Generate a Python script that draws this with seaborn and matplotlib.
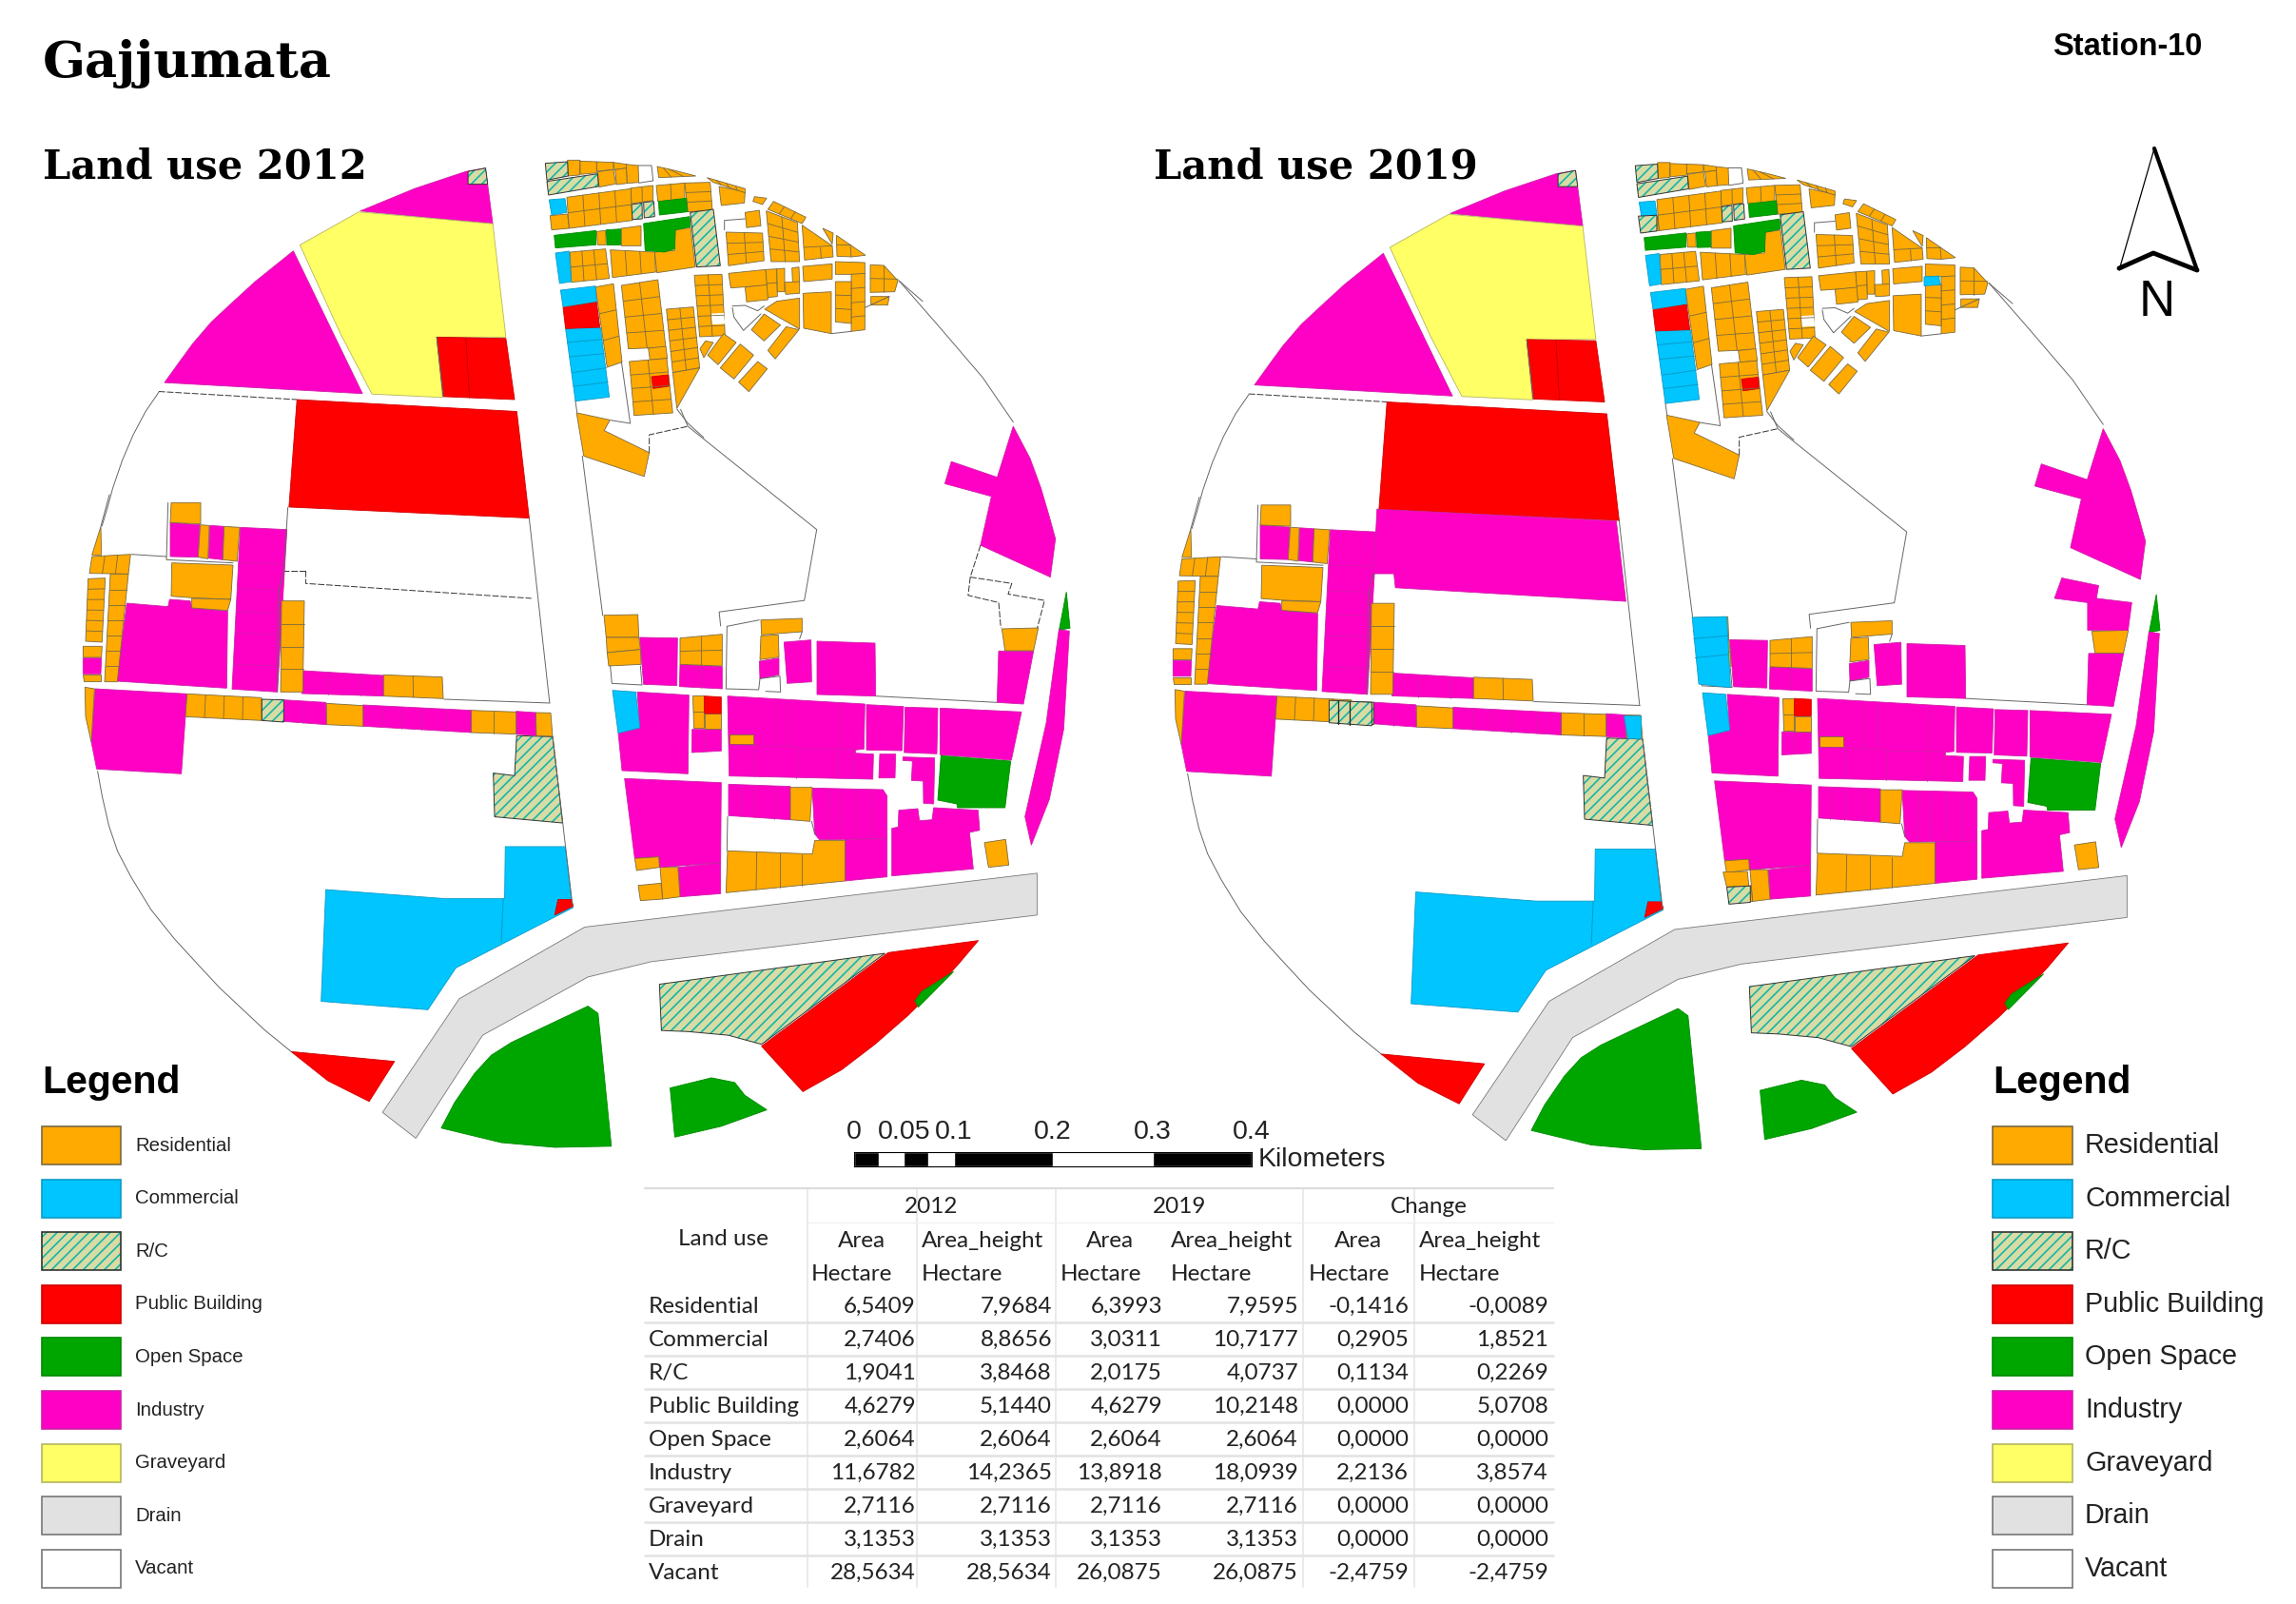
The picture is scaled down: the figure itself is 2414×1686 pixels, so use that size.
import matplotlib

matplotlib.use("Agg")
import matplotlib.pyplot as plt
import numpy as np
import seaborn as sns
from matplotlib.patches import Polygon

WIDTH, HEIGHT = 2414, 1686
DPI = 100
SHEET_UNITS = 1568
OFFSET_2019 = (1146, 2.5)

# map sheets: left, top, width, height in pixels of the page
NORTH_BOX = (0, 120, 1200, 700)
SOUTH_BOX = (50, 650, 1100, 600)
BLOCK_BOX = (570, 160, 400, 300)
EAST_BOX = (630, 650, 500, 320)
WEST_BOX = (80, 520, 520, 300)
NORTH_BOX_2019 = (1200, 120, 1214, 700)
SOUTH_BOX_2019 = (1200, 650, 1214, 600)

LAND_USES = ["Residential", "Commercial", "R/C", "Public Building", "Open Space",
             "Industry", "Graveyard", "Drain", "Vacant"]
FILL = ["#FFAA00", "#00C5FF", "#D8DCA4", "#FF0000", "#00A600", "#FF00C5", "#FFFF66", "#E1E1E1", "#FFFFFF"]
EDGE = ["#7a6a40", "#0a9cc8", "#222222", "#d00000", "#008a00", "#d020a8", "#b5b560", "#777777", "#777777"]

AREA_2012 = ["6,5409", "2,7406", "1,9041", "4,6279", "2,6064", "11,6782", "2,7116", "3,1353", "28,5634"]
HEIGHT_2012 = ["7,9684", "8,8656", "3,8468", "5,1440", "2,6064", "14,2365", "2,7116", "3,1353", "28,5634"]
AREA_2019 = ["6,3993", "3,0311", "2,0175", "4,6279", "2,6064", "13,8918", "2,7116", "3,1353", "26,0875"]
HEIGHT_2019 = ["7,9595", "10,7177", "4,0737", "10,2148", "2,6064", "18,0939", "2,7116", "3,1353", "26,0875"]
AREA_CHANGE = ["-0,1416", "0,2905", "0,1134", "0,0000", "0,0000", "2,2136", "0,0000", "0,0000", "-2,4759"]
HEIGHT_CHANGE = ["-0,0089", "1,8521", "0,2269", "5,0708", "0,0000", "3,8574", "0,0000", "0,0000", "-2,4759"]

SCALE_ENDS = [0.4, 0.3, 0.2, 0.1, 0.075, 0.05, 0.025]
SCALE_COLORS = ["black", "white", "black", "white", "black", "white", "black"]
SCALE_TICKS = [0, 0.05, 0.1, 0.2, 0.3, 0.4]
SCALE_LABELS = ["0", "0.05", "0.1", "0.2", "0.3", "0.4"]

# --- north sheet: the large plots above the street ---
NORTH_INDUSTRY = [
    [(495, 228), (570, 175), (640, 135), (667, 127), (677, 258)],
    [(403, 322), (350, 395), (315, 450), (290, 490), (265, 540), (250, 575), (226, 632), (498, 658)],
    [(1392, 735), (1415, 810), (1430, 880), (1442, 950), (1450, 1000), (1443, 1090), (1347, 1015), (1362, 900), (1298, 870), (1307, 818), (1370, 855)],
]
NORTH_GRAVEYARD = [
    [(412, 308), (493, 230), (677, 258), (695, 525), (600, 525), (608, 667), (511, 659), (468, 518)],
]
NORTH_PUBLIC = [
    [(600, 525), (695, 528), (707, 672), (609, 665)],
    [(408, 672), (710, 700), (727, 951), (397, 925)],
]
NORTH_OPEN = [[(1465, 1125), (1470, 1210), (1455, 1215)]]
NORTH_RC = [[(643, 135), (667, 127), (670, 165), (643, 165)]]
NORTH_RESIDENTIAL = [
    [(792, 703), (838, 720), (830, 745), (892, 797), (885, 853), (802, 805)],
]
NORTH_LINES = [
    [(218, 655), (200, 700), (183, 755), (168, 815), (155, 880), (147, 930), (140, 970)],
    [(1235, 392), (1262, 445), (1290, 500), (1320, 560), (1350, 620), (1372, 675), (1392, 725)],
    [(727, 951), (755, 1385)],
    [(935, 695), (945, 735), (1122, 978), (1105, 1145), (988, 1172), (990, 1205)],
    [(800, 805), (828, 1180)],
    [(600, 525), (609, 665)],
]
NORTH_DASHED = [
    [(218, 653), (408, 672)],
    [(892, 797), (892, 755), (945, 735)],
]
NORTH_DASHED_2012 = [
    [(420, 1075), (420, 1105), (730, 1140)],
    [(388, 1075), (420, 1075)],
    [(1347, 1015), (1333, 1090), (1390, 1105), (1385, 1130), (1435, 1145), (1425, 1210)],
    [(1333, 1090), (1330, 1133), (1372, 1150), (1375, 1210)],
]

# --- south sheet: below the drain and the big south-west plots ---
SOUTH_RC = [
    [(703, 322), (757, 325), (772, 562), (670, 545), (668, 425), (700, 432)],
    [(917, 1005), (1255, 920), (1070, 1170), (1020, 1145), (960, 1135), (920, 1132)],
]
SOUTH_COMMERCIAL = [
    [(417, 745), (597, 770), (685, 770), (686, 627), (776, 627), (787, 795), (612, 960), (570, 1075), (410, 1052)],
]
SOUTH_COMMERCIAL_LINES = [[(683, 770), (680, 890)]]
SOUTH_PUBLIC = [
    [(765, 772), (785, 772), (788, 790), (760, 815)],
    [(365, 1190), (520, 1217), (482, 1327), (420, 1270)],
    [(1260, 918), (1395, 885), (1365, 950), (1340, 1000), (1290, 1090), (1240, 1170), (1190, 1240), (1132, 1300), (1070, 1175)],
]
SOUTH_OPEN = [
    [(1358, 970), (1305, 1068), (1300, 1050), (1310, 1025)],
    [(810, 1065), (825, 1085), (845, 1450), (760, 1453), (680, 1440), (590, 1400), (610, 1330), (640, 1250), (665, 1200), (695, 1165)],
    [(933, 1290), (995, 1262), (1030, 1275), (1045, 1310), (1078, 1350), (1010, 1395), (940, 1425)],
]
SOUTH_DRAIN = [
    [(805, 848), (1483, 700), (1483, 815), (905, 943), (810, 985), (652, 1145), (552, 1428), (502, 1357), (617, 1045)],
]
SOUTH_LINES = [
    [(75, 420), (82, 490), (92, 570), (105, 640), (125, 710), (155, 800), (190, 880), (225, 950), (258, 1015), (290, 1070), (325, 1130), (365, 1190)],
    [(757, 325), (787, 795)],
]

# --- block sheet: the small parcels in the north-east corner ---
# corners, columns, rows
BLOCK_RESIDENTIAL_GRIDS = [
    ([(80, 25), (120, 25), (118, 72), (82, 75)], 1, 1),
    ([(120, 28), (172, 30), (172, 65), (120, 70)], 1, 1),
    ([(172, 30), (225, 32), (225, 55), (172, 60)], 1, 1),
    ([(175, 62), (225, 55), (232, 100), (180, 110)], 1, 1),
    ([(225, 32), (265, 38), (268, 50), (228, 55)], 1, 1),
    ([(265, 38), (303, 42), (305, 95), (268, 98)], 1, 1),
    ([(230, 55), (265, 50), (268, 98), (235, 102)], 1, 1),
    ([(363, 45), (420, 58), (485, 75), (368, 80)], 3, 1),
    ([(78, 142), (280, 115), (285, 215), (85, 240)], 4, 2),
    ([(280, 113), (350, 105), (350, 152), (282, 162)], 2, 1),
    ([(25, 200), (80, 195), (85, 240), (30, 245)], 1, 1),
    ([(360, 105), (450, 97), (450, 150), (365, 155)], 2, 1),
    ([(450, 97), (530, 95), (537, 183), (460, 188)], 1, 3),
    ([(172, 250), (200, 247), (202, 292), (175, 292)], 1, 1),
    ([(250, 240), (312, 232), (312, 295), (250, 295)], 1, 1),
    ([(215, 308), (355, 315), (358, 378), (222, 395)], 3, 1),
    ([(88, 315), (200, 305), (212, 398), (92, 410)], 3, 2),
    ([(168, 425), (225, 415), (252, 662), (205, 678)], 1, 3),
    ([(250, 420), (365, 402), (390, 615), (272, 620)], 2, 4),
    ([(335, 618), (390, 612), (395, 650), (340, 655)], 1, 1),
    ([(275, 660), (393, 650), (412, 822), (290, 830)], 2, 4),
    ([(392, 495), (477, 488), (497, 680), (412, 695)], 2, 6),
    ([(480, 388), (567, 385), (577, 578), (497, 582)], 2, 6),
    ([(515, 595), (540, 600), (510, 648), (498, 620)], 1, 1),
    ([(572, 572), (612, 600), (555, 670), (522, 640)], 1, 1),
    ([(625, 605), (667, 640), (605, 715), (562, 680)], 1, 1),
    ([(680, 660), (710, 683), (652, 755), (620, 725)], 1, 1),
    ([(700, 510), (752, 545), (700, 595), (660, 560)], 1, 1),
    ([(770, 550), (810, 560), (735, 652), (712, 625)], 1, 1),
    ([(588, 382), (705, 370), (710, 420), (595, 428)], 1, 1),
    ([(640, 425), (712, 418), (712, 465), (645, 472)], 1, 1),
    ([(705, 370), (740, 368), (742, 455), (712, 458)], 1, 2),
    ([(740, 368), (765, 366), (765, 440), (742, 440)], 1, 1),
    ([(788, 365), (810, 362), (812, 410), (790, 412)], 1, 1),
    ([(765, 410), (812, 408), (812, 445), (768, 448)], 1, 1),
    ([(822, 360), (915, 352), (915, 400), (825, 408)], 1, 1),
    ([(823, 445), (912, 440), (912, 572), (825, 555)], 1, 1),
    ([(925, 345), (1018, 348), (1018, 385), (925, 385)], 1, 1),
    ([(975, 385), (1018, 382), (1018, 560), (975, 565)], 1, 4),
    ([(925, 408), (975, 408), (975, 540), (925, 535)], 1, 3),
    ([(1037, 455), (1095, 455), (1090, 482), (1037, 482)], 1, 1),
    ([(707, 185), (805, 222), (812, 345), (722, 345)], 2, 4),
    ([(730, 155), (832, 205), (820, 225), (712, 180)], 3, 1),
    ([(640, 190), (685, 183), (690, 232), (645, 238)], 1, 1),
    ([(580, 252), (695, 255), (700, 342), (588, 358)], 2, 3),
    ([(558, 108), (640, 125), (638, 160), (565, 168)], 1, 1),
    ([(520, 80), (640, 115), (640, 128), (540, 95)], 4, 1),
    ([(670, 140), (708, 145), (695, 165), (665, 155)], 1, 1),
]
BLOCK_RESIDENTIAL = [
    [(420, 245), (468, 238), (483, 362), (362, 380), (355, 315), (418, 310)],
    [(412, 695), (497, 680), (425, 808)],
    [(702, 495), (740, 470), (812, 460), (812, 558), (720, 505)],
    [(1035, 355), (1078, 357), (1122, 405), (1112, 440), (1035, 442)],
    [(928, 262), (1020, 325), (975, 330), (930, 328)],
    [(820, 230), (915, 295), (918, 330), (828, 340)],
    [(885, 240), (918, 255), (915, 290)],
]
BLOCK_RESIDENTIAL_LINES = [
    [(1078, 357), (1078, 442)], [(1035, 398), (1122, 400)],
    [(928, 292), (972, 292)], [(972, 292), (975, 330)],
    [(878, 300), (880, 335)], [(825, 300), (915, 295)],
]
BLOCK_OPEN = [
    [(367, 155), (455, 145), (458, 188), (370, 198)],
    [(38, 262), (170, 247), (170, 292), (42, 302)],
    [(202, 245), (248, 242), (248, 292), (205, 293)],
    [(320, 225), (465, 203), (468, 235), (420, 245), (418, 305), (385, 315), (325, 310)],
]
BLOCK_COMMERCIAL = [
    [(42, 318), (85, 312), (92, 408), (55, 414)],
    [(22, 150), (72, 146), (78, 190), (30, 198)],
    [(58, 435), (168, 422), (172, 472), (66, 488)],
    [(74, 557), (184, 553), (212, 772), (105, 785)],
]
BLOCK_COMMERCIAL_LINES = [
    [(80, 600), (190, 590)], [(88, 645), (197, 635)], [(95, 695), (203, 680)], [(100, 738), (208, 725)],
]
BLOCK_PUBLIC = [
    [(66, 490), (172, 473), (182, 552), (74, 556)],
    [(345, 708), (398, 702), (400, 738), (350, 745)],
]
BLOCK_RC = [
    [(10, 35), (80, 30), (82, 75), (15, 88)],
    [(15, 92), (175, 68), (178, 108), (20, 135)],
    [(282, 165), (315, 160), (316, 210), (285, 212)],
    [(320, 158), (352, 155), (355, 203), (322, 207)],
    [(467, 190), (540, 180), (562, 358), (487, 362)],
]
BLOCK_VACANT = [[(535, 510), (572, 508), (575, 540), (537, 542)]]
BLOCK_LINES = [
    [(303, 42), (345, 42), (350, 90), (305, 97)],
    [(575, 245), (575, 215), (640, 210)],
    [(600, 485), (640, 483), (680, 500), (700, 485)],
    [(600, 490), (605, 520), (635, 562), (690, 510)],
    [(912, 572), (975, 565)],
    [(1018, 490), (1095, 455)],
    [(1125, 405), (1200, 470)],
    [(425, 810), (460, 855), (510, 900)],
    [(105, 785), (110, 820)],
    [(250, 660), (278, 855), (215, 845)],
]

# --- east sheet: street blocks between the road and the sliver ---
EAST_INDUSTRY = [
    [(128, 60), (247, 62), (245, 212), (140, 208)],
    [(255, 145), (388, 152), (388, 222), (253, 215)],
    [(505, 135), (567, 125), (567, 178), (507, 190)],
    [(583, 75), (668, 68), (670, 200), (593, 205)],
    [(687, 72), (870, 78), (872, 245), (687, 240)],
    [(1260, 103), (1370, 103), (1338, 270), (1255, 265)],
    [(120, 232), (283, 242), (280, 490), (72, 480), (60, 362), (128, 345)],
    [(293, 350), (385, 350), (385, 418), (292, 423)],
    [(405, 245), (838, 270), (835, 412), (808, 415), (808, 425), (865, 428), (863, 507), (410, 497)],
    [(843, 272), (960, 278), (955, 417), (843, 415)],
    [(965, 280), (1068, 283), (1065, 427), (962, 423)],
    [(1075, 283), (1332, 295), (1300, 447), (1075, 430)],
    [(885, 428), (935, 428), (933, 503), (882, 503)],
    [(958, 437), (1058, 440), (1055, 585), (1023, 583), (1022, 513), (985, 511), (988, 450), (958, 448)],
    [(80, 505), (385, 518), (383, 770), (190, 785), (185, 752), (112, 757)],
    [(250, 785), (383, 770), (383, 868), (255, 878)],
    [(408, 523), (603, 530), (603, 635), (408, 622)],
    [(672, 535), (895, 540), (908, 560), (908, 695), (695, 698), (680, 680)],
    [(775, 697), (908, 695), (908, 815), (775, 828)],
    [(945, 605), (1005, 600), (1010, 638), (1050, 635), (1055, 597), (1195, 605), (1200, 668), (1168, 675), (1180, 790), (923, 812), (923, 662), (943, 658)],
    [(1450, 35), (1483, 40), (1465, 350), (1420, 570), (1363, 715), (1343, 625), (1410, 330)],
]
EAST_INDUSTRY_LINES = [
    [(320, 148), (320, 218)], [(332, 352), (332, 418)],
    [(553, 258), (553, 400)], [(595, 260), (595, 402)], [(760, 270), (755, 412)],
    [(488, 400), (488, 497)], [(620, 410), (620, 503)], [(750, 415), (750, 505)], [(805, 415), (803, 505)],
    [(410, 398), (620, 405)], [(620, 410), (808, 412)],
    [(445, 525), (445, 625)], [(490, 527), (490, 628)], [(553, 528), (553, 632)],
    [(725, 537), (722, 697)], [(765, 538), (762, 697)], [(815, 539), (808, 696)], [(865, 540), (862, 695)],
    [(190, 785), (383, 770)],
]
EAST_RESIDENTIAL_GRIDS = [
    ([(15, -10), (122, -12), (125, 60), (22, 60)], 1, 1),
    ([(22, 60), (125, 60), (130, 98), (25, 108)], 1, 1),
    ([(25, 108), (130, 98), (132, 145), (30, 150)], 1, 1),
    ([(255, 62), (388, 50), (388, 150), (255, 145)], 2, 2),
    ([(510, 5), (640, 0), (640, 42), (512, 52)], 1, 1),
    ([(510, 55), (565, 52), (567, 122), (507, 130)], 1, 1),
    ([(1270, 33), (1385, 30), (1370, 102), (1280, 102)], 1, 1),
    ([(295, 243), (330, 243), (330, 345), (297, 345)], 1, 2),
    ([(332, 300), (385, 300), (385, 348), (332, 348)], 1, 1),
    ([(410, 365), (485, 365), (485, 397), (410, 397)], 1, 1),
    ([(603, 533), (672, 533), (665, 640), (603, 635)], 1, 1),
    ([(112, 757), (188, 752), (190, 785), (118, 795)], 1, 1),
    ([(192, 785), (248, 785), (255, 878), (200, 885)], 1, 1),
    ([(123, 842), (195, 835), (200, 885), (130, 890)], 1, 1),
    ([(1215, 707), (1282, 697), (1292, 778), (1228, 785)], 1, 1),
]
EAST_RESIDENTIAL = [
    [(405, 733), (672, 743), (680, 700), (775, 700), (775, 828), (400, 865)],
]
EAST_RESIDENTIAL_LINES = [[(497, 738), (495, 855)], [(570, 742), (570, 848)], [(640, 745), (640, 842)]]
EAST_PUBLIC = [[(332, 245), (385, 248), (385, 300), (332, 300)]]
EAST_COMMERCIAL = [[(42, 227), (115, 232), (128, 345), (60, 362)]]
EAST_OPEN = [[(1078, 433), (1298, 450), (1280, 597), (1130, 597), (1128, 585), (1068, 573)]]
EAST_LINES = [
    [(35, 150), (40, 205), (135, 210), (130, 150)],
    [(403, 25), (505, 5)],
    [(403, 25), (400, 222), (503, 225), (507, 190)],
    [(507, 190), (570, 182), (572, 232), (525, 230)],
    [(632, 65), (640, 42)],
    [(872, 245), (1255, 265)],
    [(405, 625), (403, 733)],
    [(670, 640), (680, 680)],
]

# --- west sheet: plots and strips west of the road ---
WEST_INDUSTRY = [
    [(297, 88), (390, 95), (385, 197), (297, 195)],
    [(422, 97), (467, 100), (462, 205), (418, 200)],
    [(518, 103), (665, 110), (635, 622), (492, 613)],
    [(160, 342), (290, 353), (295, 330), (360, 335), (365, 357), (478, 367), (475, 610), (128, 588)],
    [(22, 515), (80, 515), (78, 565), (22, 565)],
    [(715, 555), (970, 570), (970, 635), (712, 627)],
    [(60, 612), (350, 628), (332, 880), (65, 865), (48, 780)],
    [(655, 647), (788, 655), (790, 725), (655, 715)],
    [(905, 663), (1247, 680), (1247, 750), (905, 730)],
    [(1388, 683), (1450, 687), (1452, 760), (1388, 755)],
]
WEST_INDUSTRY_LINES = [
    [(515, 215), (655, 218)], [(510, 295), (645, 300)], [(505, 370), (640, 373)], [(503, 437), (635, 440)], [(497, 535), (635, 540)],
    [(795, 558), (795, 630)], [(897, 565), (897, 633)],
    [(717, 650), (717, 720)],
    [(965, 667), (965, 733)], [(1025, 670), (1025, 737)], [(1090, 673), (1090, 741)], [(1170, 677), (1170, 745)],
]
WEST_RESIDENTIAL_GRIDS = [
    ([(300, 25), (393, 25), (393, 92), (297, 88)], 1, 1),
    ([(392, 95), (420, 97), (416, 202), (385, 197)], 1, 1),
    ([(467, 100), (516, 103), (508, 210), (463, 205)], 1, 1),
    ([(50, 195), (172, 188), (165, 250), (42, 248)], 3, 1),
    ([(108, 250), (165, 250), (130, 590), (90, 590)], 1, 7),
    ([(38, 265), (92, 263), (82, 465), (30, 462)], 1, 6),
    ([(22, 478), (82, 478), (80, 513), (22, 513)], 1, 1),
    ([(22, 568), (78, 568), (78, 588), (24, 588)], 1, 1),
    ([(648, 335), (720, 335), (715, 622), (645, 622)], 1, 4),
    ([(970, 568), (1155, 575), (1158, 643), (970, 635)], 2, 1),
    ([(350, 628), (585, 640), (585, 712), (345, 700)], 4, 1),
    ([(790, 658), (905, 665), (905, 730), (790, 725)], 1, 1),
    ([(1247, 680), (1388, 685), (1388, 755), (1247, 750)], 2, 1),
    ([(1450, 687), (1497, 688), (1503, 762), (1452, 760)], 1, 1),
]
WEST_RESIDENTIAL = [
    [(302, 215), (495, 222), (488, 330), (365, 325), (300, 320)],
    [(365, 327), (488, 330), (478, 365), (365, 357)],
    [(78, 100), (80, 190), (50, 190)],
    [(28, 607), (58, 612), (48, 780), (30, 700)],
]
WEST_RC = [[(586, 645), (655, 647), (655, 717), (586, 712)]]
WEST_LINES = [
    [(290, 25), (285, 205), (495, 215)],
    [(175, 188), (285, 195)],
    [(668, 40), (655, 240), (638, 310), (635, 622)],
    [(105, 0), (78, 100)],
    [(1160, 645), (1495, 657)],
]

# --- what changed by 2019, on the sheets of the right hand map ---
NORTH_2019_INDUSTRY = [
    [(320, 930), (645, 958), (658, 1147), (345, 1115), (343, 1082), (313, 1082), (310, 1140), (318, 1000)],
    [(1250, 1092), (1300, 1110), (1297, 1140), (1345, 1150), (1340, 1215), (1285, 1215), (1285, 1150), (1240, 1140)],
]
NORTH_2019_COMMERCIAL = [
    [(748, 1185), (795, 1183), (800, 1350), (757, 1342)],
    [(1063, 383), (1083, 381), (1085, 402), (1063, 404)],
    [(655, 1415), (678, 1415), (678, 1470), (660, 1470)],
]
NORTH_2019_COMMERCIAL_LINES = [[(750, 1235), (796, 1228)], [(752, 1280), (798, 1272)]]
NORTH_2019_RC = [
    [(675, 240), (700, 238), (700, 275), (678, 280)],
    [(255, 1380), (313, 1385), (313, 1440), (255, 1433)],
]
NORTH_2019_RC_LINES = [[(268, 1382), (268, 1436)], [(283, 1383), (283, 1437)]]
SOUTH_2019_RESIDENTIAL = [[(790, 697), (823, 695), (825, 735), (795, 738)]]
SOUTH_2019_RC = [[(795, 738), (827, 735), (827, 780), (798, 785)]]


def make_sheet(fig, box, shift=(0, 0), crop=False):
    left, top, width, height = box
    left += shift[0]
    top += shift[1]
    ax = fig.add_axes([left / WIDTH, 1 - (top + height) / HEIGHT, width / WIDTH, height / HEIGHT])
    # crop sheets were read at 3x, the big sheets on a 1568 square
    ax.set_xlim(0, width * 3 if crop else SHEET_UNITS)
    ax.set_ylim(height * 3 if crop else SHEET_UNITS, 0)
    ax.axis("off")
    ax.patch.set_alpha(0)
    return ax


def draw_polys(ax, polys, use):
    i = LAND_USES.index(use)
    for pts in polys:
        if use == "R/C":
            ax.add_patch(Polygon(pts, facecolor=FILL[i], edgecolor="none", clip_on=False))
            ax.add_patch(Polygon(pts, facecolor="none", edgecolor="#16b5a8", hatch="///", linewidth=0, clip_on=False))
            ax.add_patch(Polygon(pts, facecolor="none", edgecolor="#333333", linewidth=0.7, clip_on=False))
        elif use == "Vacant":
            ax.add_patch(Polygon(pts, facecolor="white", edgecolor="white", linewidth=0.6, clip_on=False))
        else:
            ax.add_patch(Polygon(pts, facecolor=FILL[i], edgecolor=EDGE[i], linewidth=0.6, clip_on=False))


def draw_grids(ax, grids, use):
    i = LAND_USES.index(use)
    for corners, cols, rows in grids:
        draw_polys(ax, [corners], use)
        a, b, c, d = [np.array(p, dtype=float) for p in corners]
        for t in np.arange(1, cols) / cols:
            p, q = a + (b - a) * t, d + (c - d) * t
            ax.plot([p[0], q[0]], [p[1], q[1]], color=EDGE[i], lw=0.6, clip_on=False)
        for t in np.arange(1, rows) / rows:
            p, q = a + (d - a) * t, b + (c - b) * t
            ax.plot([p[0], q[0]], [p[1], q[1]], color=EDGE[i], lw=0.6, clip_on=False)


def draw_lines(ax, lines, color="#666666", lw=0.7, ls="-"):
    for pts in lines:
        xs, ys = zip(*pts)
        ax.plot(xs, ys, color=color, lw=lw, ls=ls, clip_on=False)


def draw_map(fig, shift, year):
    north = make_sheet(fig, NORTH_BOX, shift)
    draw_lines(north, NORTH_LINES)
    draw_lines(north, NORTH_DASHED, color="#333333", ls=(0, (7, 2)))
    if year == 2012:
        draw_lines(north, NORTH_DASHED_2012, color="#333333", ls=(0, (7, 2)))
    draw_polys(north, NORTH_INDUSTRY, "Industry")
    draw_polys(north, NORTH_GRAVEYARD, "Graveyard")
    draw_polys(north, NORTH_PUBLIC, "Public Building")
    draw_lines(north, [[(640, 527), (645, 668)]], color="#b00000", lw=0.5)
    draw_polys(north, NORTH_RESIDENTIAL, "Residential")
    draw_polys(north, NORTH_OPEN, "Open Space")
    draw_polys(north, NORTH_RC, "R/C")

    south = make_sheet(fig, SOUTH_BOX, shift)
    draw_lines(south, SOUTH_LINES)
    draw_polys(south, SOUTH_DRAIN, "Drain")
    draw_polys(south, SOUTH_COMMERCIAL, "Commercial")
    draw_lines(south, SOUTH_COMMERCIAL_LINES, color=EDGE[1])
    draw_polys(south, SOUTH_RC, "R/C")
    draw_polys(south, SOUTH_PUBLIC, "Public Building")
    draw_polys(south, SOUTH_OPEN, "Open Space")

    block = make_sheet(fig, BLOCK_BOX, shift, crop=True)
    draw_lines(block, BLOCK_LINES)
    draw_grids(block, BLOCK_RESIDENTIAL_GRIDS, "Residential")
    draw_polys(block, BLOCK_RESIDENTIAL, "Residential")
    draw_lines(block, BLOCK_RESIDENTIAL_LINES, color=EDGE[0], lw=0.6)
    draw_polys(block, BLOCK_VACANT, "Vacant")
    draw_polys(block, BLOCK_OPEN, "Open Space")
    draw_polys(block, BLOCK_COMMERCIAL, "Commercial")
    draw_lines(block, BLOCK_COMMERCIAL_LINES, color=EDGE[1])
    draw_polys(block, BLOCK_PUBLIC, "Public Building")
    draw_polys(block, BLOCK_RC, "R/C")

    east = make_sheet(fig, EAST_BOX, shift, crop=True)
    draw_lines(east, EAST_LINES)
    draw_polys(east, EAST_INDUSTRY, "Industry")
    draw_lines(east, EAST_INDUSTRY_LINES, color=EDGE[5], lw=0.5)
    draw_grids(east, EAST_RESIDENTIAL_GRIDS, "Residential")
    draw_polys(east, EAST_RESIDENTIAL, "Residential")
    draw_lines(east, EAST_RESIDENTIAL_LINES, color=EDGE[0], lw=0.6)
    draw_polys(east, EAST_PUBLIC, "Public Building")
    draw_polys(east, EAST_COMMERCIAL, "Commercial")
    draw_polys(east, EAST_OPEN, "Open Space")

    west = make_sheet(fig, WEST_BOX, shift, crop=True)
    draw_lines(west, WEST_LINES)
    draw_polys(west, WEST_INDUSTRY, "Industry")
    draw_lines(west, WEST_INDUSTRY_LINES, color=EDGE[5], lw=0.5)
    draw_grids(west, WEST_RESIDENTIAL_GRIDS, "Residential")
    draw_polys(west, WEST_RESIDENTIAL, "Residential")
    draw_polys(west, WEST_RC, "R/C")


def draw_changes(fig):
    north = make_sheet(fig, NORTH_BOX_2019)
    draw_polys(north, NORTH_2019_INDUSTRY, "Industry")
    draw_polys(north, NORTH_2019_COMMERCIAL, "Commercial")
    draw_lines(north, NORTH_2019_COMMERCIAL_LINES, color=EDGE[1])
    draw_polys(north, NORTH_2019_RC, "R/C")
    draw_lines(north, NORTH_2019_RC_LINES, color="#222222", lw=0.9)
    south = make_sheet(fig, SOUTH_BOX_2019)
    draw_polys(south, SOUTH_2019_RESIDENTIAL, "Residential")
    draw_polys(south, SOUTH_2019_RC, "R/C")


def draw_legend(page, left, box_width, label_x, size):
    page.text(left, 1138, "Legend", fontsize=29.5, fontweight="bold", family="Liberation Sans",
              va="center", ha="left", color="black")
    for i, use in enumerate(LAND_USES):
        y = 1204 + i * 55.6
        pts = [(left, y - 20), (left + box_width, y - 20), (left + box_width, y + 20), (left, y + 20)]
        if use == "R/C":
            page.add_patch(Polygon(pts, facecolor=FILL[i], edgecolor="#16b5a8", hatch="///", linewidth=0))
            page.add_patch(Polygon(pts, facecolor="none", edgecolor="#333333", linewidth=1.2))
        else:
            page.add_patch(Polygon(pts, facecolor=FILL[i], edgecolor=EDGE[i], linewidth=1.2))
        page.text(label_x, y, use, fontsize=size, family="Liberation Sans", va="center", ha="left", color="#222222")


def draw_table(page):
    columns = [AREA_2012, HEIGHT_2012, AREA_2019, HEIGHT_2019, AREA_CHANGE, HEIGHT_CHANGE]
    rights = [963, 1106, 1222, 1365, 1481, 1628]
    area_centers = [906, 1167, 1428]
    height_lefts = [969, 1231, 1492]
    hectare_lefts = [853, 969, 1115, 1231, 1376, 1492]
    font = {"family": "Lato", "fontsize": 17.5, "color": "#222222", "va": "center"}

    for x in [849, 964, 1110, 1370, 1487]:
        page.plot([x, x], [1249, 1668], color="#e6e6e6", lw=1.2)
    page.plot([678, 1633], [1249, 1249], color="#dddddd", lw=1.6)
    for k in range(8):
        y = 1390 + k * 35
        page.plot([678, 1633], [y, y], color="#e2e2e2", lw=1.8)
    page.plot([849, 1633], [1285, 1285], color="#f0f0f0", lw=1)

    for label, x in zip(["2012", "2019", "Change"], [979, 1240, 1502]):
        page.text(x, 1268.5, label, ha="center", **font)
    page.text(760, 1302.5, "Land use", ha="center", **font)
    for x in area_centers:
        page.text(x, 1304.5, "Area", ha="center", **font)
    for x in height_lefts:
        page.text(x, 1304.5, "Area_height", ha="left", **font)
    for x in hectare_lefts:
        page.text(x, 1339.5, "Hectare", ha="left", **font)
    for row, use in enumerate(LAND_USES):
        y = 1373.5 + row * 35
        page.text(682, y, use, ha="left", **font)
        for values, x in zip(columns, rights):
            page.text(x, y, values[row], ha="right", **font)


def draw_scale(fig):
    ax = fig.add_axes([898 / WIDTH, 1 - 1226 / HEIGHT, 418 / WIDTH, 15 / HEIGHT])
    for end, color in zip(SCALE_ENDS, SCALE_COLORS):
        sns.barplot(x=[end], y=[0], orient="h", color=color, saturation=1, width=1, ax=ax, legend=False)
    ax.set_xlim(0, 0.4)
    ax.set_ylim(0.5, -0.5)
    ax.set_ylabel("")
    ax.set_yticks([])
    ax.set_xticks(SCALE_TICKS)
    ax.set_xticklabels(SCALE_LABELS, family="Liberation Sans", fontsize=20.5, color="#222222")
    ax.xaxis.tick_top()
    ax.tick_params(axis="x", length=0, pad=6)
    for spine in ax.spines.values():
        spine.set_visible(True)
        spine.set_color("black")
        spine.set_linewidth(0.8)


def draw_north_arrow(page):
    tip = (2265, 156)
    page.add_patch(Polygon([tip, (2228, 284), (2264, 266), (2310, 284)], facecolor="white", edgecolor="black", linewidth=0.9))
    page.plot([tip[0], 2310], [tip[1], 284], color="black", lw=3, solid_capstyle="round")
    page.plot([2228, 2264, 2310], [282, 266, 284], color="black", lw=3.5)
    page.text(2268, 318, "N", fontsize=38, family="Liberation Sans", ha="center", va="center", color="black")


def main():
    sns.set_theme(style="white")
    plt.rcParams["font.family"] = ["Liberation Sans", "DejaVu Sans"]
    plt.rcParams["hatch.linewidth"] = 1.2

    fig = plt.figure(figsize=(WIDTH / DPI, HEIGHT / DPI), dpi=DPI, facecolor="white")

    draw_map(fig, (0, 0), 2012)
    draw_map(fig, OFFSET_2019, 2019)
    draw_changes(fig)

    overlay = fig.add_axes([0, 0, 1, 1])
    overlay.set_xlim(0, WIDTH)
    overlay.set_ylim(HEIGHT, 0)
    overlay.axis("off")
    overlay.patch.set_alpha(0)

    title = {"family": "DejaVu Serif", "fontweight": "bold", "va": "center", "ha": "left", "color": "black"}
    overlay.text(45, 67, "Gajjumata", fontsize=38, **title)
    overlay.text(45, 175, "Land use 2012", fontsize=30, **title)
    overlay.text(1213, 175, "Land use 2019", fontsize=30, **title)
    overlay.text(2237, 50, "Station-10", fontsize=23.5, family="Liberation Sans", fontweight="bold",
                 ha="center", va="center", color="black")

    draw_legend(overlay, 44, 83, 142, 14.7)
    draw_legend(overlay, 2095, 84, 2192, 20.7)
    draw_table(overlay)
    overlay.text(1323, 1219, "Kilometers", fontsize=20.5, family="Liberation Sans", va="center", ha="left", color="#222222")
    draw_north_arrow(overlay)
    draw_scale(fig)

    fig.savefig("out.png", dpi=DPI, facecolor="white")
    plt.close(fig)


if __name__ == "__main__":
    main()
